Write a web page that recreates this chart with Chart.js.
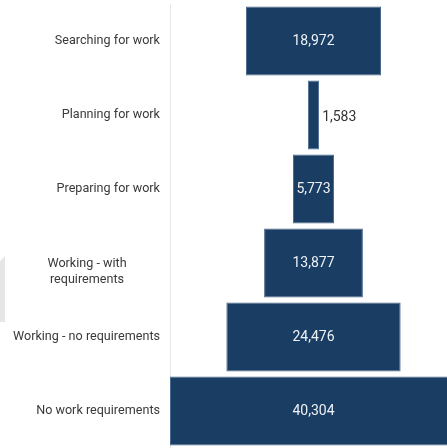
<!DOCTYPE html>
<html>
<head>
<meta charset="utf-8">
<script src="https://cdn.jsdelivr.net/npm/chart.js@4.4.0/dist/chart.umd.min.js"></script>
<style>
    html, body { margin: 0; padding: 0; background: #fff; overflow: hidden; }
    #wrap { position: relative; width: 447px; height: 448px; }
    #edge {
        position: absolute; left: 0; top: 256px; width: 5px; height: 66px;
        background: #e6e6e6;
        clip-path: polygon(0 8%, 100% 0, 100% 100%, 0 100%);
    }
</style>
</head>
<body>
<div id="wrap">
    <canvas id="funnel" width="447" height="448"></canvas>
    <div id="edge"></div>
</div>
<script>
// Stages of the work-requirement funnel, top to bottom
var stages = [
    ['Searching for work'],
    ['Planning for work'],
    ['Preparing for work'],
    ['Working - with', 'requirements'],
    ['Working - no requirements'],
    ['No work requirements']
];
var counts = [18972, 1583, 5773, 13877, 24476, 40304];

var barColor = '#1a3d63';

// each bar is centred on zero so the stack reads as a funnel
var spans = counts.map(function (v) { return [-v / 2, v / 2]; });

function fmt(v) {
    return v.toLocaleString('en-US');
}

// category names to the left of the axis line
var stageLabels = {
    id: 'stageLabels',
    afterDraw: function (chart) {
        var ctx = chart.ctx;
        var yScale = chart.scales.y;
        ctx.save();
        ctx.font = '12.6px Roboto';
        ctx.fillStyle = '#3a3a3a';
        ctx.textBaseline = 'middle';
        stages.forEach(function (lines, i) {
            var y = yScale.getPixelForValue(i);
            if (lines.length === 1) {
                ctx.textAlign = 'right';
                ctx.fillText(lines[0], 160, y);
            } else {
                ctx.textAlign = 'center';
                lines.forEach(function (line, j) {
                    ctx.fillText(line, 87, y + 1 + j * 15.5);
                });
            }
        });
        ctx.restore();
    }
};

// value labels: inside the bar, or just right of it when the bar is too thin
var valueLabels = {
    id: 'valueLabels',
    afterDatasetsDraw: function (chart) {
        var ctx = chart.ctx;
        var meta = chart.getDatasetMeta(0);
        ctx.save();
        ctx.font = '14px Roboto';
        ctx.textBaseline = 'middle';
        meta.data.forEach(function (bar, i) {
            var text = fmt(counts[i]);
            var w = ctx.measureText(text).width;
            var left = Math.min(bar.x, bar.base);
            var right = Math.max(bar.x, bar.base);
            var mid = (left + right) / 2;
            if (right - left < w * 0.8) {
                ctx.textAlign = 'left';
                ctx.fillStyle = '#333333';
                ctx.fillText(text, right + 3, bar.y + 2);
            } else {
                ctx.textAlign = 'center';
                ctx.fillStyle = '#eef1f5';
                ctx.fillText(text, mid, bar.y);
            }
        });
        ctx.restore();
    }
};

var ctx = document.getElementById('funnel').getContext('2d');
var chart = new Chart(ctx, {
    type: 'bar',
    data: {
        labels: stages,
        datasets: [{
            data: spans,
            backgroundColor: barColor,
            borderColor: '#48698d',
            borderWidth: 1,
            borderSkipped: false,
            categoryPercentage: 1,
            barPercentage: 0.935
        }]
    },
    options: {
        indexAxis: 'y',
        responsive: false,
        animation: false,
        layout: { padding: { left: 170, top: 4, right: 0, bottom: 0 } },
        plugins: {
            legend: { display: false },
            tooltip: { enabled: false }
        },
        scales: {
            x: {
                display: false,
                min: -20152,
                max: 18750
            },
            y: {
                display: true,
                grid: { display: false, drawTicks: false },
                border: { display: true, color: '#e8e8e8', width: 1 },
                ticks: { display: false }
            }
        }
    },
    plugins: [stageLabels, valueLabels]
});
</script>
</body>
</html>
